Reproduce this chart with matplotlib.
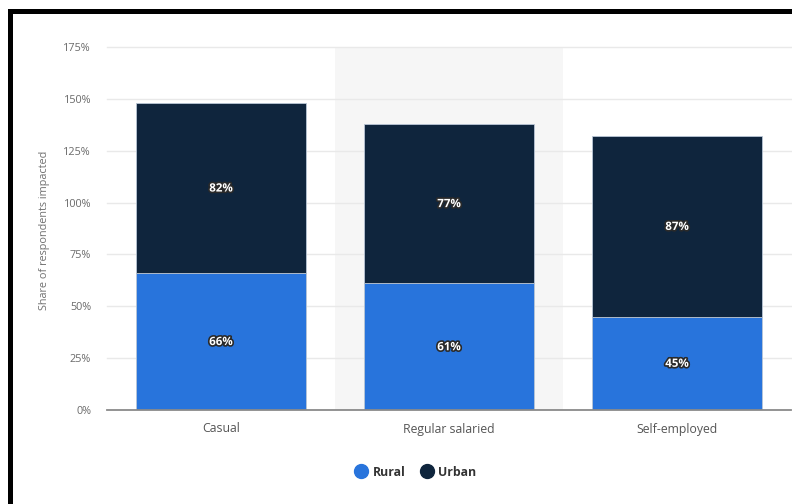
import matplotlib
matplotlib.use("Agg")
import matplotlib.pyplot as plt
import matplotlib.patheffects as pe
from matplotlib.patches import Rectangle
from matplotlib.lines import Line2D
import numpy as np

plt.rcParams['font.family'] = ['Open Sans', 'DejaVu Sans']

categories = ["Casual", "Regular salaried", "Self-employed"]
rural = [66, 61, 45]
urban = [82, 77, 87]
series_names = ["Rural", "Urban"]
colors = ["#2874dc", "#0f253d"]
yticks = [0, 25, 50, 75, 100, 125, 150, 175]

W, H = 792, 504
fig = plt.figure(figsize=(W / 100, H / 100), dpi=100)
fig.patch.set_facecolor("white")

ax = fig.add_axes([107 / W, 1 - 410 / H, (791 - 107) / W, (410 - 47) / H])
ax.set_facecolor("white")
x = np.arange(len(categories))

# highlighted category band
ax.axvspan(0.5, 1.5, color="#f6f6f6", zorder=0, lw=0)

for t in yticks[1:]:
    ax.axhline(t, color="#e9e9e9", lw=1, zorder=1, clip_on=False)

bw = 0.746
ax.bar(x, rural, bw, color=colors[0], zorder=2, edgecolor="#b9c6d6", linewidth=0.6)
ax.bar(x, urban, bw, bottom=rural, color=colors[1], zorder=2, edgecolor="#b9c6d6", linewidth=0.6)

stroke = [pe.withStroke(linewidth=2.4, foreground="#2a2a2a")]
for i in range(len(categories)):
    ax.text(x[i], rural[i] / 2, f"{rural[i]}%", ha="center", va="center", color="white",
            fontsize=8.3, fontweight="bold", path_effects=stroke, zorder=3)
    ax.text(x[i], rural[i] + urban[i] / 2, f"{urban[i]}%", ha="center", va="center", color="white",
            fontsize=8.3, fontweight="bold", path_effects=stroke, zorder=3)

ax.axhline(0, color="#8a8a8a", lw=1.3, zorder=4, clip_on=False)

ax.set_xlim(-0.5, 2.5)
ax.set_ylim(0, 175)
ax.set_yticks(yticks)
ax.set_yticklabels([f"{t}%" for t in yticks], fontsize=7.8, color="#6a6a6a")
ax.set_xticks(x)
ax.set_xticklabels(categories, fontsize=8.8, color="#555555")
ax.tick_params(axis="both", length=0)
ax.tick_params(axis="y", pad=11.5)
ax.tick_params(axis="x", pad=9)
for s in ax.spines.values():
    s.set_visible(False)

fig.text(45 / W, 1 - 230 / H, "Share of respondents impacted", rotation=90,
         ha="center", va="center", fontsize=7.8, color="#707070")

handles = [Line2D([0], [0], marker="o", linestyle="", markersize=10,
                  markerfacecolor=c, markeredgecolor=c) for c in colors]
leg = fig.legend(handles, series_names, loc="center", bbox_to_anchor=(414 / W, 1 - 472 / H),
                 ncol=2, frameon=False, fontsize=8.8, handletextpad=0.1, columnspacing=1.0,
                 handlelength=1.6)
for t in leg.get_texts():
    t.set_color("#333333")
    t.set_fontweight("bold")

# frame edges
fig.add_artist(Rectangle((8 / W, 0), 5 / W, 1 - 9 / H, transform=fig.transFigure,
                         color="black", lw=0))
fig.add_artist(Rectangle((8 / W, 1 - 14 / H), 1 - 8 / W, 5 / H, transform=fig.transFigure,
                         color="black", lw=0))

fig.savefig("out.png", dpi=100, facecolor="white")
